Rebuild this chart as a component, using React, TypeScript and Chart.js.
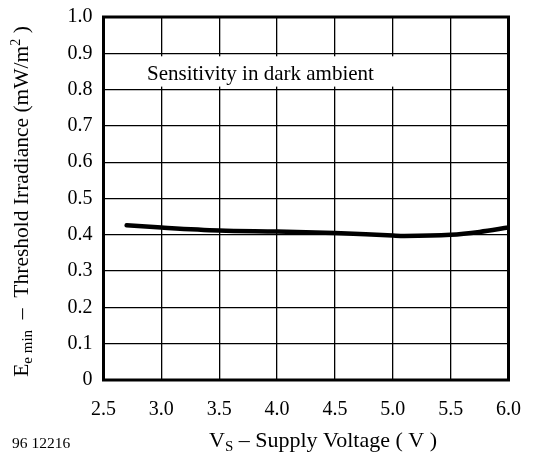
import React, { useEffect, useRef } from "react";
import { Chart, registerables } from "chart.js";
Chart.register(...registerables);

const voltage = [2.7, 3.0, 3.5, 4.0, 4.5, 5.0, 5.1, 5.5, 5.75, 6.0];
const irradiance = [0.426, 0.420, 0.412, 0.409, 0.405, 0.398, 0.397, 0.400, 0.408, 0.420];
const xTickLabels = ["2.5", "3.0", "3.5", "4.0", "4.5", "5.0", "5.5", "6.0"];
const yTickLabels = ["0", "0.1", "0.2", "0.3", "0.4", "0.5", "0.6", "0.7", "0.8", "0.9", "1.0"];
const annotation = "Sensitivity in dark ambient";
const figureId = "96 12216";

const SERIF = "'Liberation Serif', 'Times New Roman', serif";

type Seg = { t: string; size: number; dy: number };

function segWidth(ctx: CanvasRenderingContext2D, segs: Seg[]) {
  let w = 0;
  for (const s of segs) {
    ctx.font = `${s.size}px ${SERIF}`;
    w += ctx.measureText(s.t).width;
  }
  return w;
}
function drawSegs(ctx: CanvasRenderingContext2D, segs: Seg[], x: number, y: number) {
  let cx = x;
  for (const s of segs) {
    ctx.font = `${s.size}px ${SERIF}`;
    ctx.fillText(s.t, cx, y + s.dy);
    cx += ctx.measureText(s.t).width;
  }
}

const textPlugin = {
  id: "textPlugin",
  beforeDatasetsDraw(chart: any) {
    const ctx: CanvasRenderingContext2D = chart.ctx;
    const a = chart.chartArea;
    const y = chart.scales.y;
    const x = chart.scales.x;
    // white box behind the annotation
    ctx.save();
    ctx.fillStyle = "#fff";
    const top = y.getPixelForValue(0.9) + 3;
    const bottom = y.getPixelForValue(0.8) - 3;
    const right = x.getPixelForValue(5.5) - 3;
    ctx.fillRect(a.left, top, right - a.left, bottom - top);
    ctx.restore();
  },
  afterDraw(chart: any) {
    const ctx: CanvasRenderingContext2D = chart.ctx;
    const a = chart.chartArea;
    ctx.save();
    // frame
    ctx.strokeStyle = "#000";
    ctx.lineWidth = 3;
    ctx.strokeRect(a.left, a.top, a.right - a.left, a.bottom - a.top);
    ctx.fillStyle = "#000";
    ctx.textBaseline = "alphabetic";
    ctx.textAlign = "left";
    // annotation
    ctx.font = `21px ${SERIF}`;
    ctx.fillText(annotation, 147, 80);
    // x title
    const xs: Seg[] = [
      { t: "V", size: 22, dy: 0 },
      { t: "S", size: 15, dy: 4 },
      { t: " – Supply Voltage ( V )", size: 22, dy: 0 },
    ];
    const xw = segWidth(ctx, xs);
    drawSegs(ctx, xs, 323 - xw / 2, 447);
    // y title
    const ys: Seg[] = [
      { t: "E", size: 21.5, dy: 0 },
      { t: "e min", size: 15, dy: 4 },
      { t: "  –  Threshold Irradiance (mW/m", size: 21.5, dy: 0 },
      { t: "2", size: 14, dy: -8 },
      { t: " )", size: 21.5, dy: 0 },
    ];
    const yw = segWidth(ctx, ys);
    ctx.save();
    ctx.translate(28, 201.5);
    ctx.rotate(-Math.PI / 2);
    drawSegs(ctx, ys, -yw / 2, 0);
    ctx.restore();
    // figure id
    ctx.font = `15.5px ${SERIF}`;
    ctx.fillText(figureId, 12, 448);
    ctx.restore();
  },
};

export default function App() {
  const ref = useRef<HTMLCanvasElement>(null);
  useEffect(() => {
    if (!ref.current) return;
    const chart = new Chart(ref.current, {
      type: "line",
      data: {
        datasets: [
          {
            data: voltage.map((v, i) => ({ x: v, y: irradiance[i] })),
            borderColor: "#000",
            borderWidth: 4.5,
            pointRadius: 0,
            cubicInterpolationMode: "monotone",
            borderCapStyle: "round",
            borderJoinStyle: "round",
            fill: false,
          },
        ],
      },
      options: {
        animation: false,
        responsive: false,
        devicePixelRatio: 1,
        layout: { padding: { top: 17, right: 25.5, left: 0, bottom: 0 } },
        plugins: { legend: { display: false }, tooltip: { enabled: false } },
        scales: {
          x: {
            type: "linear",
            min: 2.5,
            max: 6.0,
            afterFit: (s: any) => {
              s.height = 72;
              s.paddingLeft = 0;
              s.paddingRight = 0;
            },
            border: { display: false },
            grid: { color: "#000", lineWidth: 1.3, drawTicks: false },
            ticks: {
              stepSize: 0.5,
              padding: 18,
              color: "#000",
              font: { family: SERIF, size: 20 },
              maxRotation: 0,
              callback: (v: any) => {
                const i = Math.round((Number(v) - 2.5) / 0.5);
                return xTickLabels[i] ?? "";
              },
            },
          },
          y: {
            type: "linear",
            min: 0,
            max: 1.0,
            afterFit: (s: any) => {
              s.width = 103.5;
              s.paddingTop = 0;
              s.paddingBottom = 0;
            },
            border: { display: false },
            grid: { color: "#000", lineWidth: 1.3, drawTicks: false },
            ticks: {
              stepSize: 0.1,
              padding: 11,
              color: "#000",
              font: { family: SERIF, size: 20 },
              callback: (v: any) => {
                const i = Math.round(Number(v) * 10);
                return yTickLabels[i] ?? "";
              },
            },
          },
        },
      },
      plugins: [textPlugin],
    } as any);
    return () => chart.destroy();
  }, []);
  return (
    <div style={{ position: "fixed", left: 0, top: 0, width: 534, height: 452, background: "#fff" }}>
      <canvas ref={ref} width={534} height={452} style={{ width: 534, height: 452 }} />
    </div>
  );
}
